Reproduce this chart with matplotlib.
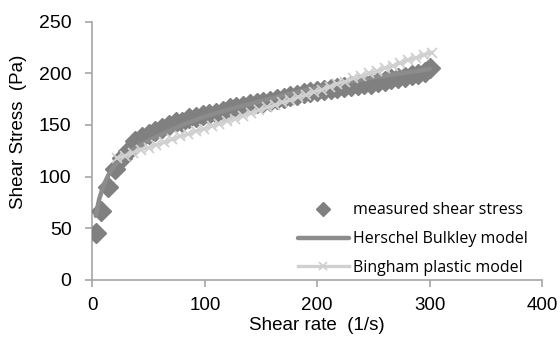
import matplotlib
matplotlib.use("Agg")
import matplotlib.pyplot as plt

rate_meas = [3, 8, 14, 20, 26, 32, 38, 44, 50, 56, 62, 68, 74, 80, 86, 92, 98,
             104, 110, 116, 122, 128, 134, 140, 146, 152, 158, 164, 170, 176,
             182, 188, 194, 200, 206, 212, 218, 224, 230, 236, 242, 248, 254,
             260, 266, 272, 278, 284, 290, 296, 300]
stress_meas = [45, 67, 90, 107, 118, 125, 134, 138, 141, 144, 147, 150, 153,
               153, 157, 158, 160, 161, 162, 163, 166, 167, 168, 170, 171, 172,
               173, 175, 176, 178, 179, 181, 182, 183, 184, 185, 186, 187, 188,
               189, 190, 190, 192, 193, 194, 195, 196, 198, 199, 201, 205]

# Herschel Bulkley fit
rate_hb = [3, 6, 10, 15, 20, 30, 40, 50, 60, 80, 100, 125, 150, 175, 200,
           225, 250, 275, 300]
stress_hb = [62, 78, 92, 103, 111, 121, 129, 135, 140, 150, 158, 166, 173,
             180, 186, 191, 196, 200, 204]

# Bingham plastic fit
rate_bp = [22, 29, 36, 43, 50, 57, 64, 71, 78, 85, 92, 99, 106, 113, 120,
           127, 134, 141, 148, 155, 162, 169, 176, 183, 190, 197, 204, 211,
           218, 225, 232, 239, 246, 253, 260, 267, 274, 281, 288, 295, 302]
stress_bp = [118, 120, 123, 126, 128, 131, 133, 136, 139, 141, 144, 146, 149,
             151, 154, 156, 159, 162, 164, 167, 169, 172, 174, 177, 179, 182,
             184, 187, 190, 192, 195, 197, 200, 202, 205, 207, 210, 213, 215,
             218, 220]

fig = plt.figure(figsize=(5.6, 3.38), dpi=100)
ax = fig.add_axes([0.165, 0.172, 0.803, 0.764])

ax.plot(rate_meas, stress_meas, linestyle="none", marker="D", markersize=10.5,
        color="#808080", label="measured shear stress", zorder=3)
ax.plot(rate_hb, stress_hb, color="#8c8c8c", linewidth=3.2,
        label="Herschel Bulkley model", zorder=4, solid_capstyle="round")
ax.plot(rate_bp, stress_bp, color="#d0d0d0", linewidth=2.4, marker="x",
        markersize=7.5, markeredgewidth=1.3, label="Bingham plastic model",
        zorder=5)

ax.set_xlim(0, 400)
ax.set_ylim(0, 250)
ax.set_xticks([0, 100, 200, 300, 400])
ax.set_yticks([0, 50, 100, 150, 200, 250])

for s in ["top", "right"]:
    ax.spines[s].set_visible(False)
for s in ["left", "bottom"]:
    ax.spines[s].set_color("#a6a6a6")
    ax.spines[s].set_linewidth(1.2)

ax.tick_params(axis="both", colors="#a6a6a6", labelcolor="black",
               labelsize=14, length=5, width=1.2)
ax.tick_params(axis="y", pad=10)
ax.tick_params(axis="x", pad=7, labelsize=13.5)
for lab in ax.get_xticklabels() + ax.get_yticklabels():
    lab.set_family("Liberation Sans")

ax.set_xlabel("Shear rate  (1/s)", fontsize=13.5, family="Liberation Sans")
ax.set_ylabel("Shear Stress  (Pa)", fontsize=13.5, family="Liberation Sans")
ax.xaxis.set_label_coords(0.5, -0.145)
ax.yaxis.set_label_coords(-0.146, 0.575)

leg = ax.legend(loc="upper left", bbox_to_anchor=(0.457, 0.30),
                frameon=False, borderpad=0, borderaxespad=0,
                handlelength=3.2, handletextpad=0.25, labelspacing=0.8,
                markerscale=0.7, prop={"family": "Open Sans", "size": 11.5})

fig.savefig("out.png", dpi=100)
